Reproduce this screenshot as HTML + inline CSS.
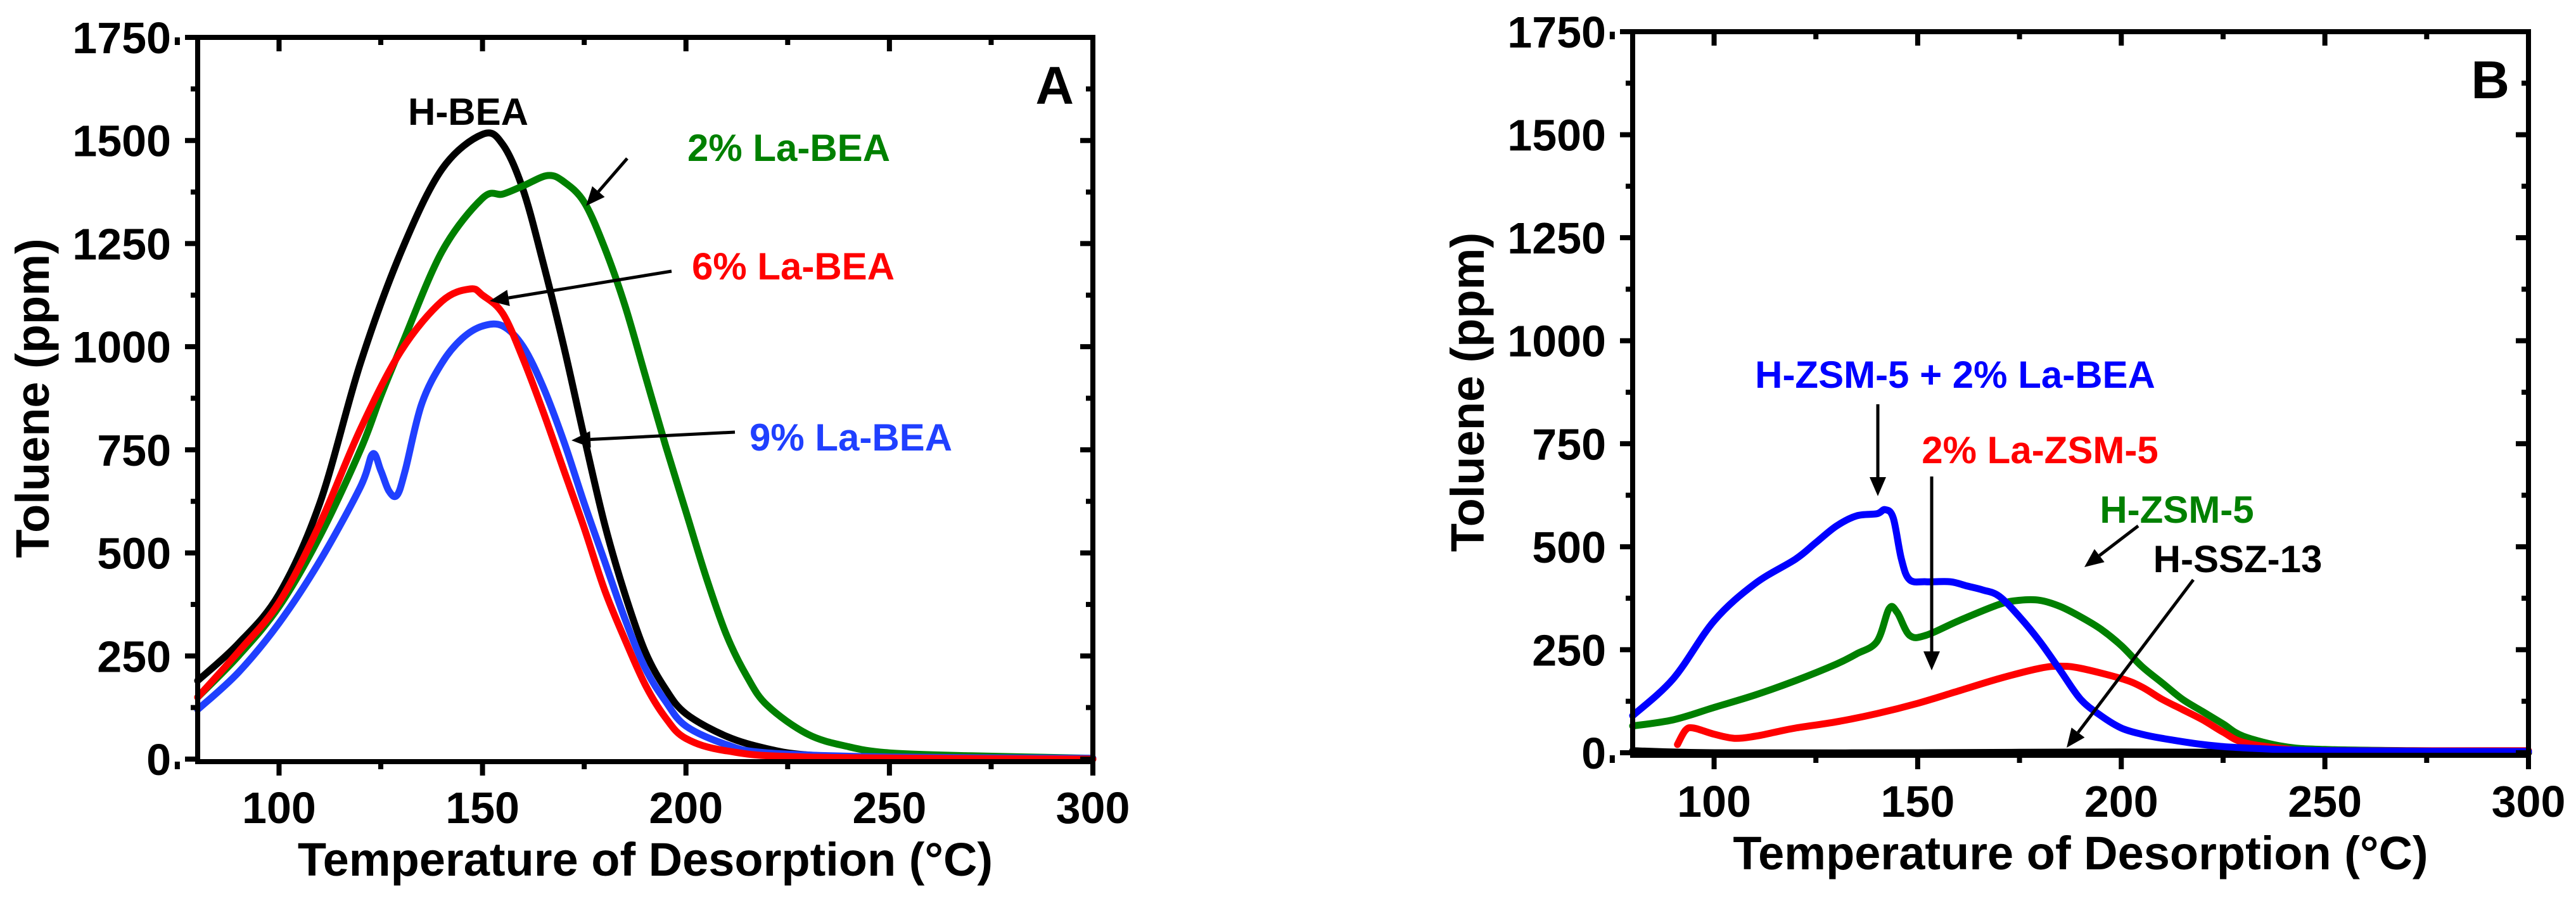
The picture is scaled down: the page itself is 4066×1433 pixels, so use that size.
<!DOCTYPE html>
<html><head><meta charset="utf-8"><style>
html,body{margin:0;padding:0;background:#fff}
svg{display:block}
text{font-family:"Liberation Sans",Arial,sans-serif;font-weight:bold}
</style></head><body>
<svg id="fig" width="4066" height="1433" viewBox="0 0 4066 1433" xmlns="http://www.w3.org/2000/svg"></svg>
<script>
// ---- Panel A data ----
const aHbeaX=[80,90,100,110,120,130,140,150,155,160,165,170,175,180,185,190,195,200,210,220,230,250,300];
const aHbeaY=[190,280,400,620,960,1230,1430,1515,1490,1380,1200,1000,780,570,400,260,170,110,55,25,10,3,0];
const a2LaX=[80,90,100,110,120,125,130,140,150,155,160,166,170,175,180,185,190,195,200,205,210,215,220,230,240,250,270,300];
const a2LaY=[150,250,370,540,750,880,1000,1230,1360,1370,1390,1415,1400,1350,1240,1100,930,760,600,440,300,200,130,60,30,15,8,2];
const a6LaX=[80,90,100,110,120,130,140,147,150,155,160,165,170,175,180,185,190,195,200,210,230,300];
const a6LaY=[150,260,380,570,800,990,1110,1140,1125,1080,970,840,700,560,410,290,180,100,50,20,5,0];
const a9LaX=[80,90,100,110,120,123,125,127,129,131,135,140,145,150,155,160,165,170,175,180,185,190,195,200,210,220,250,300];
const a9LaY=[120,210,330,480,660,740,700,650,640,700,860,960,1020,1050,1050,1000,900,770,620,480,340,220,140,80,35,15,5,2];
// ---- Panel B data ----
const bMixX=[80,90,100,110,120,125,130,135,140,142,144,146,148,152,158,162,166,170,175,180,185,190,195,200,205,210,220,230,250,300];
const bMixY=[90,180,320,410,470,510,550,575,580,590,570,470,420,415,415,405,395,380,330,270,200,130,90,60,45,35,20,12,5,3];
const bZsmX=[80,90,100,110,120,130,135,140,143,145,148,152,160,170,175,180,185,190,195,200,205,210,215,220,225,230,240,250,270,300];
const bZsmY=[65,80,110,140,175,215,240,270,350,340,285,285,320,360,370,370,355,330,300,260,210,170,130,100,70,40,15,8,5,3];
const bLaZX=[91,93,95,100,105,110,115,120,130,140,150,160,170,180,185,190,200,205,210,215,220,225,230,240,250,300];
const bLaZY=[20,55,60,45,35,40,50,60,75,95,120,150,180,205,210,205,180,160,130,105,80,50,25,10,5,5];
const bSszX=[80,100,150,200,250,300];
const bSszY=[5,0,0,2,0,0];
const yTicks=[0,250,500,750,1000,1250,1500,1750];
const xTicks=[100,150,200,250,300];

const NS="http://www.w3.org/2000/svg";
const svg=document.getElementById('fig');
function mk(tag,attrs,parent){const e=document.createElementNS(NS,tag);for(const k in attrs)e.setAttribute(k,attrs[k]);(parent||svg).appendChild(e);return e;}

function smooth(pts){
  let d='M'+pts[0][0].toFixed(1)+','+pts[0][1].toFixed(1);
  for(let i=0;i<pts.length-1;i++){
    const p0=pts[Math.max(0,i-1)],p1=pts[i],p2=pts[i+1],p3=pts[Math.min(pts.length-1,i+2)];
    const c1x=p1[0]+(p2[0]-p0[0])/6,c1y=p1[1]+(p2[1]-p0[1])/6;
    const c2x=p2[0]-(p3[0]-p1[0])/6,c2y=p2[1]-(p3[1]-p1[1])/6;
    d+=`C${c1x.toFixed(1)},${c1y.toFixed(1)} ${c2x.toFixed(1)},${c2y.toFixed(1)} ${p2[0].toFixed(1)},${p2[1].toFixed(1)}`;
  }
  return d;
}

function panel(P){
  const g=mk('g',{});
  
  
  const sx=v=>P.x0+(v-80)*(P.x1-P.x0)/220;
  const sy=v=>P.y0-(v)*(P.y0-P.yTop)/1750;
  P.series.forEach(s=>{
    const pts=s.x.map((xv,i)=>[sx(xv),sy(s.y[i])]);
    const p=mk('path',{d:smooth(pts),fill:'none',stroke:s.c,'stroke-width':11,'stroke-linejoin':'round','stroke-linecap':'round'},g);
    
    
  });
  const fr=mk('rect',{x:P.x0,y:P.yTop,width:P.x1-P.x0,height:P.yAx-P.yTop,fill:'none',stroke:'#000','stroke-width':8},g);
  
  
  yTicks.forEach(t=>{
    const y=sy(t);
    mk('line',{x1:P.x0-20,x2:P.x0,y1:y,y2:y,stroke:'#000','stroke-width':8},g);
    mk('line',{x1:P.x1-20,x2:P.x1,y1:y,y2:y,stroke:'#000','stroke-width':8},g);
    if(t<1750){const ym=sy(t+125);
      mk('line',{x1:P.x0-11,x2:P.x0,y1:ym,y2:ym,stroke:'#000','stroke-width':8},g);
      mk('line',{x1:P.x1-11,x2:P.x1,y1:ym,y2:ym,stroke:'#000','stroke-width':8},g);}
    const tx=mk('text',{x:P.x0-42,y:y+25,'font-size':70,'text-anchor':'end'},g);
    tx.textContent=t;
    
    
  });
  xTicks.forEach(t=>{
    const x=sx(t);
    mk('line',{x1:x,x2:x,y1:P.yAx,y2:P.yAx+22,stroke:'#000','stroke-width':8},g);
    mk('line',{x1:x,x2:x,y1:P.yTop,y2:P.yTop+22,stroke:'#000','stroke-width':8},g);
    const xm=sx(t-25);
    mk('line',{x1:xm,x2:xm,y1:P.yAx,y2:P.yAx+12,stroke:'#000','stroke-width':8},g);
    mk('line',{x1:xm,x2:xm,y1:P.yTop,y2:P.yTop+12,stroke:'#000','stroke-width':8},g);
    const tx=mk('text',{x:x,y:P.yAx+97,'font-size':70,'text-anchor':'middle'},g);
    tx.textContent=t;
    
    
  });
  const xt=mk('text',{x:(P.x0+P.x1)/2,y:P.yAx+180,'font-size':74,'text-anchor':'middle'},g);
  xt.textContent='Temperature of Desorption (°C)';
  
  
  const yt=mk('text',{x:0,y:0,'font-size':74,'text-anchor':'middle',transform:`translate(${P.x0-235},${(P.yTop+P.y0)/2}) rotate(-90)`},g);
  yt.textContent='Toluene (ppm)';
  
  
  const pl=mk('text',{x:P.x1-30,y:P.yTop+105,'font-size':84,'text-anchor':'end'},g);
  pl.textContent=P.letter;
  
  
  P.labels.forEach(l=>{
    const t=mk('text',{x:l.x,y:l.y+21,'font-size':60,'text-anchor':'middle',fill:l.c},g);
    t.textContent=l.t;
    
    
  });
  P.arrows.forEach(a=>{
    const [x1,y1,x2,y2]=a;const ang=Math.atan2(y2-y1,x2-x1);const L=30,W=13;
    const bx=x2-L*Math.cos(ang),by=y2-L*Math.sin(ang);
    const ln=mk('line',{x1:x1,y1:y1,x2:bx,y2:by,stroke:'#000','stroke-width':5},g);
    
    
    const px=-Math.sin(ang)*W,py=Math.cos(ang)*W;
    mk('polygon',{points:`${x2},${y2} ${bx+px},${by+py} ${bx-px},${by-py}`,fill:'#000'},g);
  });
}
panel({name:'panel-a',letter:'A',x0:312,x1:1725,yTop:59,y0:1198,yAx:1202,
  series:[{x:aHbeaX,y:aHbeaY,c:'#000',n:'h-bea-line'},{x:a2LaX,y:a2LaY,c:'#008000',n:'2pct-la-bea-line'},
          {x:a9LaX,y:a9LaY,c:'#2040ff',n:'9pct-la-bea-line'},{x:a6LaX,y:a6LaY,c:'#ff0000',n:'6pct-la-bea-line'}],
  labels:[{x:739,y:176,t:'H-BEA',c:'#000',n:'h-bea-label'},{x:1245,y:233,t:'2% La-BEA',c:'#008000',n:'2pct-la-bea-label'},
          {x:1252,y:420,t:'6% La-BEA',c:'#ff0000',n:'6pct-la-bea-label'},{x:1343,y:690,t:'9% La-BEA',c:'#2040ff',n:'9pct-la-bea-label'}],
  arrows:[[990,250,925,325],[1060,428,773,475],[1160,682,902,695]]});
panel({name:'panel-b',letter:'B',x0:2577,x1:3991,yTop:50,y0:1188,yAx:1192,
  series:[{x:bSszX,y:bSszY,c:'#000',n:'h-ssz-13-line'},{x:bZsmX,y:bZsmY,c:'#008000',n:'h-zsm-5-line'},
          {x:bLaZX,y:bLaZY,c:'#ff0000',n:'2pct-la-zsm-5-line'},{x:bMixX,y:bMixY,c:'#0000ff',n:'h-zsm-5-plus-la-bea-line'}],
  labels:[{x:3086,y:591,t:'H-ZSM-5 + 2% La-BEA',c:'#0000ff',n:'mix-label'},{x:3220,y:710,t:'2% La-ZSM-5',c:'#ff0000',n:'2pct-la-zsm-5-label'},
          {x:3436,y:804,t:'H-ZSM-5',c:'#008000',n:'h-zsm-5-label'},{x:3532,y:882,t:'H-SSZ-13',c:'#000',n:'h-ssz-13-label'}],
  arrows:[[2964,638,2964,783],[3049,752,3049,1058],[3375,830,3290,895],[3462,915,3262,1180]]});
</script>
</body></html>
